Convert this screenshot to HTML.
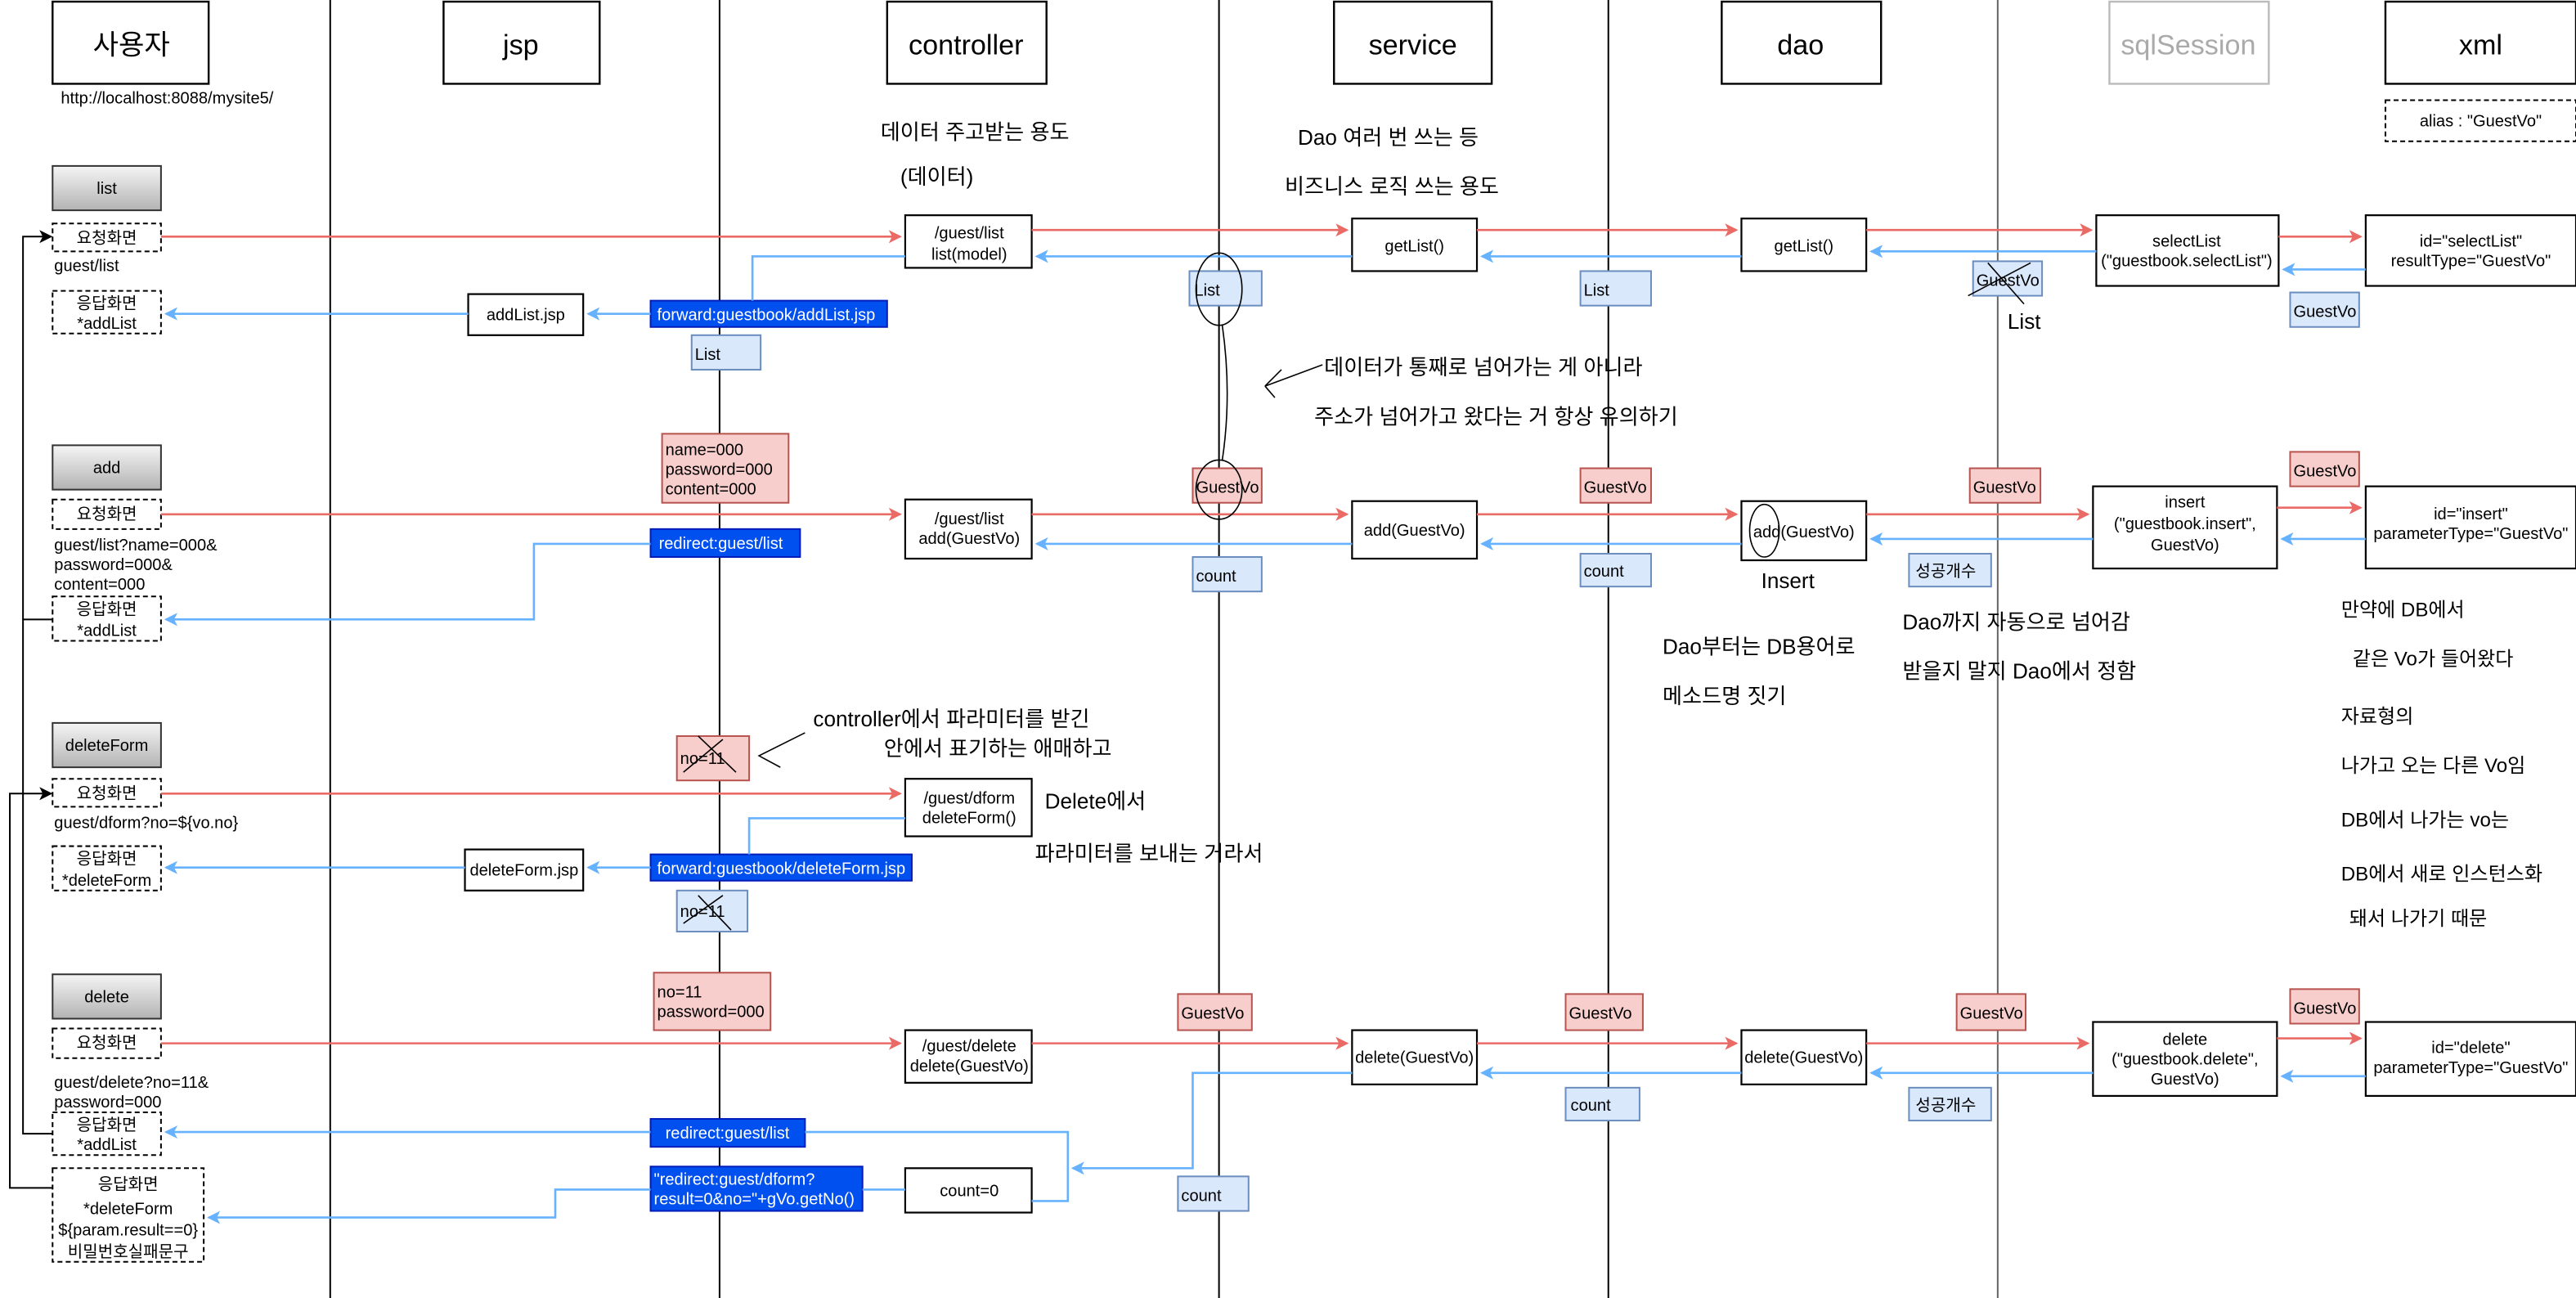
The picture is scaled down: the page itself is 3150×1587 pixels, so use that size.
<!DOCTYPE html>
<html><head><meta charset="utf-8"><style>
html,body{margin:0;padding:0;background:#fff;}
svg{display:block;}
text{font-family:"Liberation Sans","Noto Sans CJK KR",sans-serif;font-size:10px;fill:#000;}
.hd{font-size:17px;}
.w{fill:#fff;}
.hw{font-family:"Liberation Sans","Noto Sans CJK KR",sans-serif;font-size:13px;}
.hr{font-size:12px;}
</style></head><body>
<svg width="3150" height="1587" viewBox="0 0 1568 790" preserveAspectRatio="none" xmlns="http://www.w3.org/2000/svg">
<defs>
<linearGradient id="g" x1="0" y1="0" x2="0" y2="1"><stop offset="0" stop-color="#f5f5f5"/><stop offset="1" stop-color="#b3b3b3"/></linearGradient>
<marker id="ar" markerWidth="8" markerHeight="8" refX="7" refY="4" orient="auto" markerUnits="userSpaceOnUse"><path d="M0,0 L8,4 L0,8 L2,4z" fill="#ea6b66"/></marker>
<marker id="ab" markerWidth="8" markerHeight="8" refX="7" refY="4" orient="auto" markerUnits="userSpaceOnUse"><path d="M0,0 L8,4 L0,8 L2,4z" fill="#66b2ff"/></marker>
<marker id="ak" markerWidth="8" markerHeight="8" refX="7" refY="4" orient="auto" markerUnits="userSpaceOnUse"><path d="M0,0 L8,4 L0,8 L2,4z" fill="#000"/></marker>
</defs>
<g stroke="#000" stroke-width="1">
<line x1="201" y1="0" x2="201" y2="790"/><line x1="438" y1="0" x2="438" y2="790"/>
<line x1="742" y1="0" x2="742" y2="790"/><line x1="979" y1="0" x2="979" y2="790"/>
<line x1="1216" y1="0" x2="1216" y2="790" stroke="#666"/>
</g>
<g fill="#fff" stroke="#000" stroke-width="1.2">
<rect x="32" y="1" width="95" height="50"/><rect x="270" y="1" width="95" height="50"/>
<rect x="540" y="1" width="97" height="50"/><rect x="812" y="1" width="96" height="50"/>
<rect x="1048" y="1" width="97" height="50"/><rect x="1284" y="1" width="97" height="50" stroke="#bbb"/>
<rect x="1452" y="1" width="116" height="50"/>
</g>
<g text-anchor="middle">
<text class="hd" x="80" y="33">사용자</text><text class="hd" x="317" y="33">jsp</text>
<text class="hd" x="588" y="33">controller</text><text class="hd" x="860" y="33">service</text>
<text class="hd" x="1096" y="33">dao</text><text class="hd" x="1332" y="33" style="fill:#aaa">sqlSession</text>
<text class="hd" x="1510" y="33">xml</text>
</g>
<text x="37" y="63">http://localhost:8088/mysite5/</text>
<rect x="1452" y="61" width="116" height="25" fill="none" stroke="#000" stroke-dasharray="3,2"/>
<text x="1510" y="77" text-anchor="middle">alias : "GuestVo"</text>

<g stroke="#333" fill="url(#g)">
<rect x="32" y="101" width="66" height="27"/><rect x="32" y="271" width="66" height="27"/>
<rect x="32" y="440" width="66" height="27"/><rect x="32" y="593" width="66" height="27"/>
</g>
<g text-anchor="middle">
<text x="65" y="118">list</text><text x="65" y="288">add</text><text x="65" y="457">deleteForm</text><text x="65" y="610">delete</text>
</g>
<g fill="#fff" stroke="#000" stroke-dasharray="3,2">
<rect x="32" y="136" width="66" height="17"/><rect x="32" y="177" width="66" height="26"/>
<rect x="32" y="304" width="66" height="18"/><rect x="32" y="363" width="66" height="27"/>
<rect x="32" y="474" width="66" height="17"/><rect x="32" y="515" width="66" height="27"/>
<rect x="32" y="626" width="66" height="18"/><rect x="32" y="677" width="66" height="26"/>
<rect x="32" y="711" width="92" height="57"/>
</g>
<g text-anchor="middle">
<text x="65" y="148">요청화면</text><text x="65" y="188">응답화면</text><text x="65" y="200">*addList</text>
<text x="65" y="316">요청화면</text><text x="65" y="374">응답화면</text><text x="65" y="387">*addList</text>
<text x="65" y="486">요청화면</text><text x="65" y="526">응답화면</text><text x="65" y="539">*deleteForm</text>
<text x="65" y="638">요청화면</text><text x="65" y="688">응답화면</text><text x="65" y="700">*addList</text>
<text x="78" y="724">응답화면</text><text x="78" y="739">*deleteForm</text><text x="78" y="752">${param.result==0}</text><text x="78" y="765">비밀번호실패문구</text>
</g>
<text x="33" y="165">guest/list</text>
<text x="33" y="335">guest/list?name=000&amp;</text><text x="33" y="347">password=000&amp;</text><text x="33" y="359">content=000</text>
<text x="33" y="504">guest/dform?no=${vo.no}</text>
<text x="33" y="662">guest/delete?no=11&amp;</text><text x="33" y="674">password=000</text>

<g fill="none" stroke="#000" stroke-width="1">
<polyline points="32,377 14,377 14,144 31,144" marker-end="url(#ak)"/>
<polyline points="32,690 14,690 14,377"/>
<polyline points="32,723 6,723 6,483 31,483" marker-end="url(#ak)"/>
</g>

<g fill="#fff" stroke="#000" stroke-width="1.1">
<rect x="551" y="131" width="77" height="32"/><rect x="823" y="133" width="76" height="32"/>
<rect x="1060" y="133" width="76" height="32"/><rect x="1276" y="131" width="111" height="43"/>
<rect x="1440" y="131" width="128" height="43"/><rect x="285" y="179" width="70" height="25"/>
<rect x="551" y="304" width="77" height="36"/><rect x="823" y="305" width="76" height="35"/>
<rect x="1060" y="305" width="76" height="36"/><rect x="1274" y="296" width="112" height="50"/>
<rect x="1440" y="296" width="128" height="50"/>
<rect x="551" y="474" width="77" height="35"/><rect x="283" y="517" width="72" height="25"/>
<rect x="551" y="627" width="77" height="32"/><rect x="823" y="627" width="76" height="33"/>
<rect x="1060" y="627" width="76" height="33"/><rect x="1274" y="622" width="112" height="45"/>
<rect x="1440" y="622" width="128" height="45"/><rect x="551" y="711" width="77" height="27"/>
</g>
<g text-anchor="middle">
<text x="590" y="145">/guest/list</text><text x="590" y="158">list(model)</text>
<text x="861" y="153">getList()</text><text x="1098" y="153">getList()</text>
<text x="1331" y="150">selectList</text><text x="1331" y="162">("guestbook.selectList")</text>
<text x="1504" y="150">id="selectList"</text><text x="1504" y="162">resultType="GuestVo"</text>
<text x="320" y="195">addList.jsp</text>
<text x="590" y="319">/guest/list</text><text x="590" y="331">add(GuestVo)</text>
<text x="861" y="326">add(GuestVo)</text><text x="1098" y="327">add(GuestVo)</text>
<text x="1330" y="309">insert</text><text x="1330" y="322">("guestbook.insert",</text><text x="1330" y="335">GuestVo)</text>
<text x="1504" y="316">id="insert"</text><text x="1504" y="328">parameterType="GuestVo"</text>
<text x="590" y="489">/guest/dform</text><text x="590" y="501">deleteForm()</text>
<text x="319" y="533">deleteForm.jsp</text>
<text x="590" y="640">/guest/delete</text><text x="590" y="652">delete(GuestVo)</text>
<text x="861" y="647">delete(GuestVo)</text><text x="1098" y="647">delete(GuestVo)</text>
<text x="1330" y="636">delete</text><text x="1330" y="648">("guestbook.delete",</text><text x="1330" y="660">GuestVo)</text>
<text x="1504" y="641">id="delete"</text><text x="1504" y="653">parameterType="GuestVo"</text>
<text x="590" y="728">count=0</text>
</g>

<g fill="#0050ef" stroke="#001dbc">
<rect x="396" y="183" width="144" height="16"/><rect x="396" y="322" width="91" height="17"/>
<rect x="396" y="520" width="159" height="16"/><rect x="396" y="681" width="94" height="17"/>
<rect x="396" y="710" width="129" height="27"/>
</g>
<text class="w" x="400" y="195">forward:guestbook/addList.jsp</text>
<text class="w" x="401" y="334">redirect:guest/list</text>
<text class="w" x="400" y="532">forward:guestbook/deleteForm.jsp</text>
<text class="w" x="405" y="693">redirect:guest/list</text>
<text class="w" x="398" y="721">"redirect:guest/dform?</text><text class="w" x="398" y="733">result=0&amp;no="+gVo.getNo()</text>

<g fill="#dae8fc" stroke="#6c8ebf">
<rect x="421" y="204" width="42" height="21"/><rect x="724" y="165" width="44" height="21"/>
<rect x="962" y="165" width="43" height="21"/><rect x="1201" y="159" width="42" height="21"/>
<rect x="1394" y="178" width="42" height="21"/>
<rect x="726" y="339" width="42" height="21"/><rect x="962" y="337" width="43" height="20"/>
<rect x="1162" y="337" width="50" height="20"/>
<rect x="412" y="542" width="43" height="25"/>
<rect x="953" y="662" width="45" height="20"/><rect x="1162" y="662" width="50" height="20"/>
<rect x="717" y="716" width="43" height="21"/>
</g>
<text x="423" y="219">List</text><text x="727" y="180">List</text><text x="964" y="180">List</text>
<text x="1203" y="174">GuestVo</text><text x="1396" y="193">GuestVo</text>
<text x="728" y="354">count</text><text x="964" y="351">count</text><text x="1166" y="351">성공개수</text>
<text x="414" y="558">no=11</text>
<text x="956" y="676">count</text><text x="1166" y="676">성공개수</text><text x="719" y="731">count</text>
<g fill="#f8cecc" stroke="#b85450">
<rect x="403" y="264" width="77" height="42"/>
<rect x="726" y="285" width="42" height="21"/><rect x="962" y="285" width="43" height="21"/>
<rect x="1199" y="285" width="43" height="21"/><rect x="1394" y="275" width="42" height="21"/>
<rect x="412" y="448" width="44" height="27"/>
<rect x="398" y="592" width="71" height="35"/>
<rect x="717" y="605" width="45" height="22"/><rect x="953" y="605" width="47" height="22"/>
<rect x="1191" y="605" width="42" height="22"/><rect x="1394" y="602" width="42" height="21"/>
</g>
<text x="405" y="277">name=000</text><text x="405" y="289">password=000</text><text x="405" y="301">content=000</text>
<text x="728" y="300">GuestVo</text><text x="964" y="300">GuestVo</text><text x="1201" y="300">GuestVo</text><text x="1396" y="290">GuestVo</text>
<text x="414" y="465">no=11</text>
<text x="400" y="607">no=11</text><text x="400" y="619">password=000</text>
<text x="719" y="620">GuestVo</text><text x="955" y="620">GuestVo</text><text x="1193" y="620">GuestVo</text><text x="1396" y="617">GuestVo</text>

<g stroke="#ea6b66" stroke-width="1.3" fill="none" marker-end="url(#ar)">
<line x1="98" y1="144" x2="548" y2="144"/><line x1="628" y1="140" x2="820" y2="140"/>
<line x1="899" y1="140" x2="1057" y2="140"/><line x1="1136" y1="140" x2="1273" y2="140"/>
<line x1="1387" y1="144" x2="1437" y2="144"/>
<line x1="98" y1="313" x2="548" y2="313"/><line x1="628" y1="313" x2="820" y2="313"/>
<line x1="899" y1="313" x2="1057" y2="313"/><line x1="1136" y1="313" x2="1271" y2="313"/>
<line x1="1386" y1="309" x2="1437" y2="309"/>
<line x1="98" y1="483" x2="548" y2="483"/>
<line x1="98" y1="635" x2="548" y2="635"/><line x1="628" y1="635" x2="820" y2="635"/>
<line x1="899" y1="635" x2="1057" y2="635"/><line x1="1136" y1="635" x2="1271" y2="635"/>
<line x1="1386" y1="632" x2="1437" y2="632"/>
</g>
<g stroke="#66b2ff" stroke-width="1.3" fill="none" marker-end="url(#ab)">
<line x1="1440" y1="164" x2="1390" y2="164"/><line x1="1276" y1="153" x2="1139" y2="153"/>
<line x1="1060" y1="156" x2="902" y2="156"/><line x1="823" y1="156" x2="631" y2="156"/>
<line x1="396" y1="191" x2="358" y2="191"/><line x1="285" y1="191" x2="101" y2="191"/>
<line x1="1440" y1="328" x2="1389" y2="328"/><line x1="1274" y1="328" x2="1139" y2="328"/>
<line x1="1060" y1="331" x2="902" y2="331"/><line x1="823" y1="331" x2="631" y2="331"/>
<polyline points="396,331 325,331 325,377 101,377"/>
<line x1="396" y1="528" x2="358" y2="528"/><line x1="283" y1="528" x2="101" y2="528"/>
<line x1="1440" y1="655" x2="1389" y2="655"/><line x1="1274" y1="653" x2="1139" y2="653"/>
<line x1="1060" y1="653" x2="902" y2="653"/>
<line x1="396" y1="689" x2="101" y2="689"/>
<polyline points="823,653 726,653 726,711 653,711"/>
<polyline points="396,724 338,724 338,741 127,741"/>
</g>
<g stroke="#66b2ff" stroke-width="1.3" fill="none">
<polyline points="551,156 458,156 458,183"/>
<polyline points="551,498 456,498 456,520"/>
<polyline points="490,689 650,689 650,731 628,731"/>
<line x1="551" y1="724" x2="525" y2="724"/>
</g>

<g fill="none" stroke="#000" stroke-width="0.8">
<ellipse cx="742" cy="176" rx="14" ry="22"/><ellipse cx="742" cy="298" rx="14" ry="18"/>
<path d="M744,198 Q750,240 744,280"/>
<path d="M805,222 L770,235 M770,235 L780,225 M770,235 L776,242"/>
<path d="M1198,180 L1236,160 M1210,160 L1232,185"/>
<path d="M416,470 L440,450 M425,448 L448,470"/>
<path d="M416,562 L440,545 M425,545 L445,566"/>
<path d="M490,446 L462,460 L475,467"/>
<ellipse cx="1074" cy="323" rx="9" ry="16"/>
</g>
<text class="hw" x="536" y="85">데이터 주고받는 용도</text>
<text class="hw" x="548" y="112">(데이터)</text>
<text class="hw" x="790" y="88">Dao 여러 번 쓰는 등</text>
<text class="hw" x="782" y="118">비즈니스 로직 쓰는 용도</text>
<text class="hw" x="1222" y="200">List</text>
<text class="hw" x="806" y="228">데이터가 통째로 넘어가는 게 아니라</text>
<text class="hw" x="800" y="258">주소가 넘어가고 왔다는 거 항상 유의하기</text>
<text class="hw" x="1072" y="358">Insert</text>
<text class="hw" x="1012" y="398">Dao부터는 DB용어로</text>
<text class="hw" x="1012" y="428">메소드명 짓기</text>
<text class="hw" x="1158" y="383">Dao까지 자동으로 넘어감</text>
<text class="hw" x="1158" y="413">받을지 말지 Dao에서 정함</text>
<text class="hw hr" x="1425" y="375">만약에 DB에서</text>
<text class="hw hr" x="1432" y="405">같은 Vo가 들어왔다</text>
<text class="hw hr" x="1425" y="440">자료형의</text>
<text class="hw hr" x="1425" y="470">나가고 오는 다른 Vo임</text>
<text class="hw hr" x="1425" y="503">DB에서 나가는 vo는</text>
<text class="hw hr" x="1425" y="536">DB에서 새로 인스턴스화</text>
<text class="hw hr" x="1430" y="563">돼서 나가기 때문</text>
<text class="hw" x="495" y="442">controller에서 파라미터를 받긴</text>
<text class="hw" x="538" y="460">안에서 표기하는 애매하고</text>
<text class="hw" x="636" y="492">Delete에서</text>
<text class="hw" x="630" y="524">파라미터를 보내는 거라서</text>
</svg>
</body></html>
